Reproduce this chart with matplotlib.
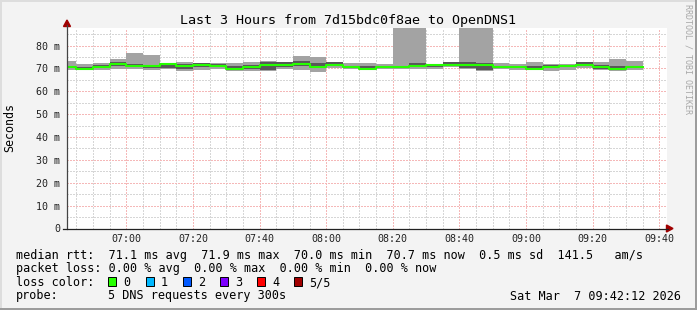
import matplotlib
matplotlib.use("Agg")
import matplotlib.pyplot as plt
from matplotlib.patches import Rectangle, Polygon
from matplotlib.lines import Line2D

# ---------------- data ----------------
start_times = ["06:40", "06:45", "06:50", "06:55", "07:00", "07:05", "07:10", "07:15",
               "07:20", "07:25", "07:30", "07:35", "07:40", "07:45", "07:50", "07:55",
               "08:00", "08:05", "08:10", "08:15", "08:20", "08:25", "08:30", "08:35",
               "08:40", "08:45", "08:50", "08:55", "09:00", "09:05", "09:10", "09:15",
               "09:20", "09:25", "09:30"]
end_time = "09:35"

# ping values in ms (min, 2nd, median, 4th, max) per 5 minute step
lo = [69.5, 69.1, 69.1, 69.8, 69.8, 69.1, 69.8, 68.8, 69.1, 69.8,
      68.8, 68.8, 69.0, 69.8, 69.1, 68.6, 70.2, 69.8, 69.6, 69.8,
      69.8, 69.8, 69.8, 70.5, 69.8, 69.0, 69.8, 69.1, 69.6, 68.8,
      69.1, 70.2, 69.5, 68.8, 69.4]
p2 = [70.0, 69.5, 70.3, 71.2, 70.9, 70.2, 70.2, 69.8, 70.8, 70.5,
      69.5, 69.8, 69.1, 70.8, 71.2, 70.2, 71.0, 70.2, 69.7, 70.5,
      70.5, 70.6, 70.8, 71.2, 70.2, 69.1, 70.3, 70.3, 69.6, 70.2,
      70.5, 71.0, 69.9, 69.6, 70.0]
med = [70.5, 69.9, 70.8, 71.7, 71.2, 71.1, 71.7, 71.0, 71.4, 71.0,
       69.9, 70.8, 71.4, 71.4, 71.7, 70.5, 71.4, 70.7, 69.9, 70.8,
       70.8, 71.0, 71.5, 71.5, 71.4, 71.4, 70.8, 70.7, 69.9, 70.8,
       71.2, 71.4, 70.7, 69.9, 70.7]
p4 = [71.0, 70.5, 71.4, 72.7, 71.8, 71.4, 72.0, 72.0, 72.3, 72.0,
      71.0, 71.4, 72.7, 73.0, 73.4, 72.3, 72.6, 71.2, 71.2, 71.2,
      71.0, 72.3, 71.7, 72.6, 72.6, 72.3, 71.2, 71.2, 71.0, 71.3,
      71.6, 72.6, 71.3, 71.0, 71.2]
hi = [73.4, 71.7, 72.3, 73.9, 76.6, 75.8, 72.0, 72.6, 72.3, 72.3,
      72.3, 72.6, 73.1, 73.0, 75.6, 74.9, 72.6, 72.4, 72.3, 72.0,
      95.0, 95.0, 71.7, 72.6, 95.0, 95.0, 72.3, 72.0, 72.6, 72.0,
      71.7, 72.6, 72.6, 74.0, 73.4]

x_tick_labels = ["07:00", "07:20", "07:40", "08:00", "08:20", "08:40", "09:00", "09:20", "09:40"]
y_tick_values = [0, 10, 20, 30, 40, 50, 60, 70, 80]
y_tick_labels = ["0", "10 m", "20 m", "30 m", "40 m", "50 m", "60 m", "70 m", "80 m"]

title = "Last 3 Hours from 7d15bdc0f8ae to OpenDNS1"
line_rtt = "median rtt:  71.1 ms avg  71.9 ms max  70.0 ms min  70.7 ms now  0.5 ms sd  141.5   am/s"
line_loss = "packet loss: 0.00 % avg  0.00 % max  0.00 % min  0.00 % now"
loss_labels = ["0", "1", "2", "3", "4", "5/5"]
loss_colors = ["#26ff00", "#00b8ff", "#0059ff", "#7e00ff", "#ff0000", "#a10000"]
probe_text = "5 DNS requests every 300s"
date_text = "Sat Mar  7 09:42:12 2026"
view_start = "06:42:12"
view_end = "09:42:12"


def to_min(t):
    parts = [int(p) for p in t.split(":")]
    m = parts[0] * 60 + parts[1]
    if len(parts) > 2:
        m += parts[2] / 60.0
    return m


# ---------------- figure ----------------
W, H = 697, 310
MONO = "DejaVu Sans Mono"
fig = plt.figure(figsize=(W / 100, H / 100), dpi=100, facecolor="#f3f3f3")


def fx(px):
    return px / W


def fy(py):
    return 1 - py / H


AX_L, AX_R, AX_T, AX_B = 67, 666.6, 28, 228.5
ax = fig.add_axes([fx(AX_L), fy(AX_B), (AX_R - AX_L) / W, (AX_B - AX_T) / H])
ax.set_facecolor("white")
for s in ax.spines.values():
    s.set_visible(False)

edges = [to_min(t) for t in start_times] + [to_min(end_time)]


def ext(v):
    return list(v) + [v[-1]]


ax.fill_between(edges, ext(lo), ext(hi), step="post", color="#a3a3a3", lw=0, zorder=2)
ax.fill_between(edges, ext(p2), ext(p4), step="post", color="#585858", lw=0, zorder=3)
ax.step(edges, ext(med), where="post", color=loss_colors[0], lw=1.5, zorder=4)

ax.set_xlim(to_min(view_start), to_min(view_end))
ax.set_ylim(0, (AX_B - AX_T) / 2.2875)

xt = [to_min(t) for t in x_tick_labels]
ax.set_xticks(xt)
ax.set_xticklabels(x_tick_labels, fontfamily=MONO, fontsize=7.2, color="#222222")
minor_x = [m for m in range(int(edges[0]) + 5, int(to_min(view_end)) + 1, 5) if m not in xt]
ax.set_xticks(minor_x, minor=True)
ax.set_yticks(y_tick_values)
ax.set_yticklabels(y_tick_labels, fontfamily=MONO, fontsize=7.2, color="#222222")
ax.set_yticks([v + 5 for v in y_tick_values], minor=True)
ax.tick_params(axis="both", which="both", length=0)
ax.tick_params(axis="y", pad=5)
ax.tick_params(axis="x", pad=4)

ax.set_axisbelow(True)
ax.grid(which="minor", color="#d6d6d6", linestyle=(0, (1, 1)), lw=1.0, zorder=0)
ax.grid(which="major", color="#f5b8b8", linestyle=(0, (1, 1)), lw=1.0, zorder=0)
for axis in (ax.xaxis, ax.yaxis):
    for tk in axis.get_major_ticks() + axis.get_minor_ticks():
        tk.gridline.set_antialiased(False)

# axes lines with arrows
fig.add_artist(Line2D([fx(AX_L), fx(AX_L)], [fy(AX_B + 0.5), fy(25)], color="#444444", lw=0.9))
fig.add_artist(Line2D([fx(63), fx(668)], [fy(AX_B), fy(AX_B)], color="#222222", lw=0.9))
fig.add_artist(Polygon([[fx(63.5), fy(26.5)], [fx(70.5), fy(26.5)], [fx(67), fy(20)]],
                       closed=True, color="#a00000", transform=fig.transFigure))
fig.add_artist(Polygon([[fx(666.5), fy(225)], [fx(666.5), fy(232)], [fx(673), fy(228.5)]],
                       closed=True, color="#a00000", transform=fig.transFigure))

# title and labels
fig.text(fx(348.5), fy(24), title, fontfamily=MONO, fontsize=9.6, ha="center", va="baseline")
fig.text(fx(10), fy(127.5), "Seconds", fontfamily=MONO, fontsize=8.4, rotation=90,
         ha="center", va="center")
fig.text(fx(688), fy(4), "RRDTOOL / TOBI OETIKER", fontfamily=MONO, fontsize=6.0,
         rotation=270, ha="center", va="top", color="#a8a8a8")

# legend
LX = 16
FS = 8.5
fig.text(fx(LX), fy(258.5), line_rtt, fontfamily=MONO, fontsize=FS, ha="left", va="baseline")
fig.text(fx(LX), fy(272), line_loss, fontfamily=MONO, fontsize=FS, ha="left", va="baseline")
fig.text(fx(LX), fy(286), "loss color:", fontfamily=MONO, fontsize=FS, ha="left", va="baseline")
for i, (lab, col) in enumerate(zip(loss_labels, loss_colors)):
    bx = 108.3 + 37.2 * i
    fig.add_artist(Rectangle((fx(bx), fy(286.3)), 8 / W, 9 / H, facecolor=col,
                             edgecolor="black", lw=0.7, transform=fig.transFigure))
    fig.text(fx(bx + 15), fy(286), lab, fontfamily=MONO, fontsize=FS, ha="left", va="baseline")
fig.text(fx(LX), fy(299.5), "probe:", fontfamily=MONO, fontsize=FS, ha="left", va="baseline")
fig.text(fx(107.5), fy(299.5), probe_text, fontfamily=MONO, fontsize=FS, ha="left", va="baseline")
fig.text(fx(681), fy(299.5), date_text, fontfamily=MONO, fontsize=FS, ha="right", va="baseline")

# 3D frame
fig.add_artist(Rectangle((0, fy(2)), 1, 2 / H, facecolor="#dddddd", lw=0, transform=fig.transFigure))
fig.add_artist(Rectangle((0, 0), 2 / W, 1, facecolor="#dddddd", lw=0, transform=fig.transFigure))
fig.add_artist(Rectangle((0, 0), 1, 2 / H, facecolor="#9c9c9c", lw=0, transform=fig.transFigure))
fig.add_artist(Rectangle((fx(695), 0), 2 / W, 1, facecolor="#9c9c9c", lw=0, transform=fig.transFigure))

fig.savefig("out.png", dpi=100, facecolor=fig.get_facecolor())
